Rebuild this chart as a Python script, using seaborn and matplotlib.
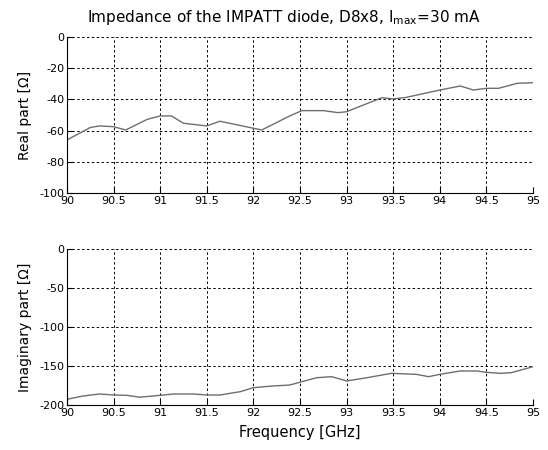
import numpy as np
import pandas as pd
import matplotlib
matplotlib.use("Agg")
import matplotlib.pyplot as plt
import seaborn as sns

# real part of the impedance [Ohm]
freq_re = [90.0, 90.25, 90.35, 90.5, 90.63, 90.86, 91.0, 91.12, 91.25, 91.5,
           91.64, 92.0, 92.09, 92.39, 92.52, 92.75, 92.91, 93.0, 93.18, 93.38,
           93.5, 93.64, 94.0, 94.22, 94.36, 94.5, 94.63, 94.83, 95.0]
real_part = [-66, -58, -57, -57.5, -59.6, -52.8, -50.6, -50.6, -55.3, -57,
             -54, -58.5, -59.6, -50.6, -47.2, -47.2, -48.5, -47.9, -43.6, -38.9,
             -39.7, -38.7, -34, -31.4, -34, -32.9, -32.9, -29.7, -29.3]

# imaginary part of the impedance [Ohm]
freq_im = [90.0, 90.17, 90.35, 90.5, 90.64, 90.78, 91.0, 91.14, 91.36, 91.5,
           91.64, 91.86, 92.0, 92.21, 92.39, 92.52, 92.68, 92.84, 93.0, 93.22,
           93.48, 93.75, 93.88, 94.0, 94.22, 94.4, 94.5, 94.65, 94.77, 95.0]
imag_part = [-192.7, -188.5, -185.9, -187.2, -187.6, -190, -187.6, -185.9, -185.9, -187.2,
             -187.2, -182.9, -177.8, -175.6, -174.4, -170.1, -165, -163.7, -169.2, -165,
             -159.4, -160.7, -163.7, -160.7, -156.4, -156.4, -158.1, -159.4, -158.5, -150.9]

x_ticks = [90, 90.5, 91, 91.5, 92, 92.5, 93, 93.5, 94, 94.5, 95]
x_labels = ["90", "90.5", "91", "91.5", "92", "92.5", "93", "93.5", "94", "94.5", "95"]

sns.set_style("white")
plt.rcParams['font.family'] = ['DejaVu Sans']
plt.rcParams['axes.unicode_minus'] = False
plt.rcParams['text.color'] = 'black'
plt.rcParams['axes.labelcolor'] = 'black'
plt.rcParams['xtick.color'] = 'black'
plt.rcParams['ytick.color'] = 'black'

df_re = pd.DataFrame({"f": freq_re, "v": real_part})
df_im = pd.DataFrame({"f": freq_im, "v": imag_part})

fig = plt.figure(figsize=(5.48, 4.5), dpi=100)
ax1 = fig.add_axes([0.1223, 0.5711, 0.8503, 0.3467])
ax2 = fig.add_axes([0.1223, 0.1, 0.8503, 0.3467])

def style_axis(ax, yticks):
    ax.set_xlim(90, 95)
    ax.set_xticks(x_ticks)
    ax.set_xticklabels(x_labels)
    ax.set_yticks(yticks)
    ax.set_ylim(yticks[0], yticks[-1])
    ax.grid(True, color="black", linestyle=(0, (2.5, 2.5)), linewidth=0.7)
    ax.set_axisbelow(True)
    for s in ["top", "right"]:
        ax.spines[s].set_visible(False)
    for s in ["left", "bottom"]:
        ax.spines[s].set_color("black")
        ax.spines[s].set_linewidth(0.8)
    ax.tick_params(direction="in", length=4, width=0.8, labelsize=8,
                   colors="black", pad=2, left=True, bottom=True)

sns.lineplot(data=df_re, x="f", y="v", ax=ax1, color="#6e6e6e", linewidth=1.0)
style_axis(ax1, [-100, -80, -60, -40, -20, 0])
ax1.set_xlabel("")
ax1.set_ylabel("Real part [Ω]", fontsize=10, labelpad=5)
ax1.set_title(r"Impedance of the IMPATT diode, D8x8, I$_{\mathregular{max}}$=30 mA",
              fontsize=11, pad=11, x=0.466, color="black")

sns.lineplot(data=df_im, x="f", y="v", ax=ax2, color="#6e6e6e", linewidth=1.0)
style_axis(ax2, [-200, -150, -100, -50, 0])
ax2.set_xlabel("Frequency [GHz]", fontsize=10.5, labelpad=5)
ax2.set_ylabel("Imaginary part [Ω]", fontsize=10, labelpad=5)

fig.savefig("out.png", dpi=100)
